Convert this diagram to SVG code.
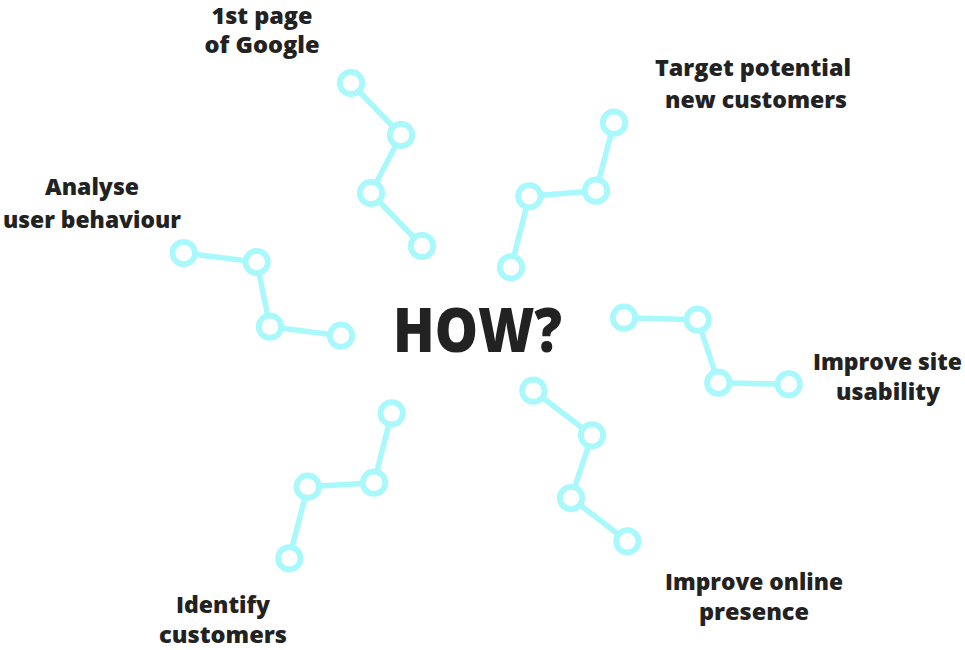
<svg xmlns="http://www.w3.org/2000/svg" width="965" height="650" viewBox="0 0 965 650">
<style>
.lnk{fill:none;stroke:#a8f8fc;stroke-width:5.5;stroke-linejoin:round}
.dot{fill:#ffffff;stroke:#a8f8fc;stroke-width:5.8}
.lbl{font-family:"Open Sans","Liberation Sans",sans-serif;font-weight:800;font-size:22px;fill:#222222;text-anchor:middle}
.how{font-family:"Open Sans","Liberation Sans",sans-serif;font-weight:800;font-size:62px;fill:#222222;text-anchor:middle}
</style>
<rect width="965" height="650" fill="#ffffff"/>
<g id="connectors">
<polyline class="lnk" points="351,83 401,135 371,193 422,246"/>
<polyline class="lnk" points="614,122.7 596,190.7 529.3,196.3 511,267.3"/>
<polyline class="lnk" points="183.7,253 256.7,262 270,326.7 341,335.7"/>
<polyline class="lnk" points="624,317.7 697.7,319.7 718.3,382.7 788.7,384.3"/>
<polyline class="lnk" points="533.3,390.7 592,435.3 571,498 627.3,541.3"/>
<polyline class="lnk" points="391.7,413.3 374,482.7 307.7,486.7 289.3,558.3"/>
</g>
<g id="node-google">
<circle class="dot" cx="351" cy="83" r="11.2"/>
<circle class="dot" cx="401" cy="135" r="11.2"/>
<circle class="dot" cx="371" cy="193" r="11.2"/>
<circle class="dot" cx="422" cy="246" r="11.2"/>
<text class="lbl" x="262" y="23.5" textLength="101" lengthAdjust="spacingAndGlyphs">1st page</text>
<text class="lbl" x="262" y="53" textLength="115" lengthAdjust="spacingAndGlyphs">of Google</text>
</g>
<g id="node-target">
<circle class="dot" cx="614" cy="122.7" r="11.2"/>
<circle class="dot" cx="596" cy="190.7" r="11.2"/>
<circle class="dot" cx="529.3" cy="196.3" r="11.2"/>
<circle class="dot" cx="511" cy="267.3" r="11.2"/>
<text class="lbl" x="753" y="76" textLength="196" lengthAdjust="spacingAndGlyphs">Target potential</text>
<text class="lbl" x="756" y="108" textLength="182" lengthAdjust="spacingAndGlyphs">new customers</text>
</g>
<g id="node-analyse">
<circle class="dot" cx="183.7" cy="253" r="11.2"/>
<circle class="dot" cx="256.7" cy="262" r="11.2"/>
<circle class="dot" cx="270" cy="326.7" r="11.2"/>
<circle class="dot" cx="341" cy="335.7" r="11.2"/>
<text class="lbl" x="92" y="195" textLength="94" lengthAdjust="spacingAndGlyphs">Analyse</text>
<text class="lbl" x="92" y="227.5" textLength="178" lengthAdjust="spacingAndGlyphs">user behaviour</text>
</g>
<g id="node-usability">
<circle class="dot" cx="624" cy="317.7" r="11.2"/>
<circle class="dot" cx="697.7" cy="319.7" r="11.2"/>
<circle class="dot" cx="718.3" cy="382.7" r="11.2"/>
<circle class="dot" cx="788.7" cy="384.3" r="11.2"/>
<text class="lbl" x="887.5" y="369.5" textLength="149" lengthAdjust="spacingAndGlyphs">Improve site</text>
<text class="lbl" x="888" y="400" textLength="104" lengthAdjust="spacingAndGlyphs">usability</text>
</g>
<g id="node-online">
<circle class="dot" cx="533.3" cy="390.7" r="11.2"/>
<circle class="dot" cx="592" cy="435.3" r="11.2"/>
<circle class="dot" cx="571" cy="498" r="11.2"/>
<circle class="dot" cx="627.3" cy="541.3" r="11.2"/>
<text class="lbl" x="754" y="589.5" textLength="178" lengthAdjust="spacingAndGlyphs">Improve online</text>
<text class="lbl" x="754" y="620" textLength="110" lengthAdjust="spacingAndGlyphs">presence</text>
</g>
<g id="node-identify">
<circle class="dot" cx="391.7" cy="413.3" r="11.2"/>
<circle class="dot" cx="374" cy="482.7" r="11.2"/>
<circle class="dot" cx="307.7" cy="486.7" r="11.2"/>
<circle class="dot" cx="289.3" cy="558.3" r="11.2"/>
<text class="lbl" x="223" y="613" textLength="94" lengthAdjust="spacingAndGlyphs">Identify</text>
<text class="lbl" x="223" y="643" textLength="128" lengthAdjust="spacingAndGlyphs">customers</text>
</g>
<g id="node-how">
<text class="how" x="477.5" y="352" textLength="169" lengthAdjust="spacingAndGlyphs">HOW?</text>
</g>
</svg>
